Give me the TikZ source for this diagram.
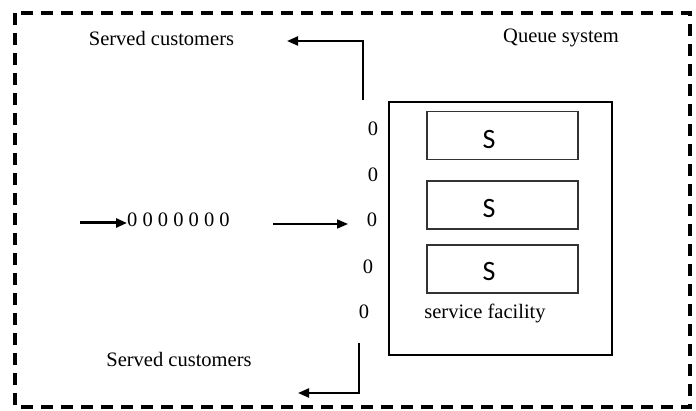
\documentclass[tikz,border=0pt]{standalone}
\usepackage{fontspec}
\setmainfont{Liberation Serif}
\newfontfamily\serverfont{Carlito}
\usetikzlibrary{arrows.meta}
\begin{document}
\begin{tikzpicture}[x=1pt,y=-1pt,
  txt/.style={inner sep=0pt,font=\fontsize{20.5}{24}\selectfont},
  zero/.style={inner sep=0pt,font=\fontsize{20.5}{24}\selectfont},
  arr/.style={-{Triangle[length=11pt,width=9pt]},line width=2.2pt},
  sbox/.style={draw=black!80,line width=1.5pt,minimum width=151pt,minimum height=48pt,inner sep=0pt},
  slabel/.style={inner sep=0pt,font=\serverfont\fontsize{28}{32}\selectfont}]
\useasboundingbox (0,0) rectangle (696,411);
% system boundary
\draw[line width=3.2pt,dash pattern=on 12pt off 8pt] (15,13) rectangle (690,407);
% labels
\node[txt] (servedtop) at (161.5,38) {Served customers};
\node[txt] (qsys) at (561,38) {Queue system};
\node[txt] (servedbot) at (179,359) {Served customers};
% service facility with three servers
\node[draw,line width=2.8pt,minimum width=223pt,minimum height=253pt,inner sep=0pt] (fac) at (500.5,228.5) {};
\node[sbox] (s1) at (502.5,135.5) {};
\node[sbox] (s2) at (502.5,205) {};
\node[sbox] (s3) at (502.5,269) {};
\node[slabel] (l1) at (489,140) {S};
\node[slabel] (l2) at (489,209) {S};
\node[slabel] (l3) at (489,272) {S};
\node[txt] (facl) at (485,313) {service facility};
% customers waiting at the servers
\node[zero] (z1) at (373,129) {0};
\node[zero] (z2) at (373,175) {0};
\node[zero] (z3) at (372,220) {0};
\node[zero] (z4) at (368,267) {0};
\node[zero] (z5) at (364,312) {0};
% arriving queue
\node[zero,anchor=west] (queue) at (127,220) {0 0 0 0 0 0 0};
\coordinate (arrin) at (80,223);
\coordinate (mid0) at (273,224);
\coordinate (mid1) at (348,224);
\draw[-{Triangle[length=11pt,width=9pt]},line width=3pt] (arrin) -- (arrin -| queue.west);
\draw[arr,line width=1.6pt] (mid0) -- (mid1);
% departures
\coordinate (upstart) at (363,100);
\coordinate (upend) at (287,41);
\draw[arr] (upstart) |- (upend);
\coordinate (downstart) at (359,343);
\coordinate (downend) at (298,393);
\draw[arr] (downstart) |- (downend);
\end{tikzpicture}
\end{document}
